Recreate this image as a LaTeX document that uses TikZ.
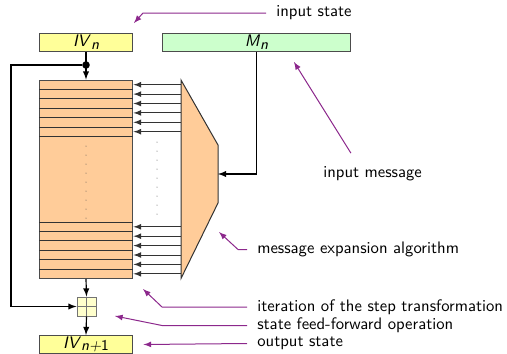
\documentclass[tikz,border=0pt]{standalone}
\usepackage{tikz}
\definecolor{ivyellow}{RGB}{255,255,153}
\definecolor{mgreen}{RGB}{204,255,204}
\definecolor{peach}{RGB}{255,204,153}
\definecolor{xoryellow}{RGB}{255,255,204}
\definecolor{annot}{RGB}{140,40,140}
\newcommand{\sub}[1]{\raisebox{-0.35ex}{\small\itshape #1}}

\begin{document}
\begin{tikzpicture}[x=0.6pt,y=-0.6pt,>=latex,font=\sffamily]
        \tikzstyle{every node}+=[inner sep=0pt]
        \tikzstyle{box}=[draw=black!70, line width=0.6pt, minimum height=10.8pt]
        \tikzstyle{note}=[annot, line width=0.6pt, ->]
        \tikzstyle{label}=[anchor=west]
        \useasboundingbox (0,0) rectangle (507,354);
        \node[box, fill=ivyellow, minimum width=56.4pt] (ivn) at (86,42) {\textit{IV}\sub{n}};
        \node[box, fill=mgreen, minimum width=113.4pt] (mn) at (256.5,42) {\textit{M}\sub{n}};
        \node[box, fill=peach, minimum width=56.4pt, minimum height=119.1pt] (state) at (86,179.25) {};
        \node[box, fill=ivyellow, minimum width=56.4pt] (ivnn) at (86,344.5) {\textit{IV}\sub{n+}\raisebox{-0.35ex}{\small 1}};
        \node[box, draw=black!55, fill=xoryellow, minimum width=11.4pt, minimum height=11.4pt] (xor) at (86.5,306.5) {};
        \draw[black!55, line width=0.6pt] (xor.north) -- (xor.south) (xor.west) -- (xor.east);
        \foreach \k in {1,...,6} {
          \draw[black!80, line width=0.6pt] (39,80+9.4*\k) -- (133,80+9.4*\k);
          \draw[black!80, line width=0.6pt] (39,278.5-9.4*\k) -- (133,278.5-9.4*\k);
          \draw[black!80, line width=0.6pt, ->] (181,80+9.4*\k-4.7) -- (state.east |- 0,80+9.4*\k-4.7);
          \draw[black!80, line width=0.6pt, ->] (181,278.5-9.4*\k+4.7) -- (state.east |- 0,278.5-9.4*\k+4.7);
        }
        \foreach \y in {146,155,...,218} \fill[black!70] (86,\y) circle (0.3pt);
        \foreach \y in {142,151,...,218} \fill[black!70] (157,\y) circle (0.3pt);
        \draw[black!80, line width=0.6pt, fill=peach] (181,80) -- (218,145) -- (218,203) -- (181,278.5) -- cycle;
        \coordinate (expin) at (218,174);
        \node[circle, fill, inner sep=1.6pt] (split) at (86,65) {};
        \draw[line width=0.7pt, ->] (ivn.south) -- (state.north);
        \draw[line width=0.7pt, ->] (split) -- (11,65) |- (xor.west);
        \draw[line width=0.7pt, ->] (mn.south) |- (expin);
        \draw[line width=0.7pt, ->] (state.south) -- (xor.north);
        \draw[line width=0.7pt, ->] (xor.south) -- (ivnn.north);
        \node[label] (tin) at (276,13) {input state};
        \node[label] (tmsg) at (323,174) {input message};
        \node[label] (texp) at (257,249.5) {message expansion algorithm};
        \node[label] (titer) at (257,307) {iteration of the step transformation};
        \node[label] (tff) at (257,325.5) {state feed-forward operation};
        \node[label] (tout) at (257,343.5) {output state};
        \draw[note] ([shift={(-6pt,0pt)}]tin.west) -- (143,13) -- (134,23);
        \draw[note] ([shift={(-13pt,8pt)}]tmsg.north) -- (294,62);
        \draw[note] ([xshift=-6pt]texp.west) -- (238,249.5) -- (219,232);
        \draw[note] ([xshift=-6pt]titer.west) -- (162,307) -- (143,289);
        \draw[note] ([xshift=-6pt]tff.west) -- (162,325.5) -- (115,316);
        \draw[note] ([xshift=-6pt]tout.west) -- ([xshift=6pt]ivnn.east);
\end{tikzpicture}
\end{document}
